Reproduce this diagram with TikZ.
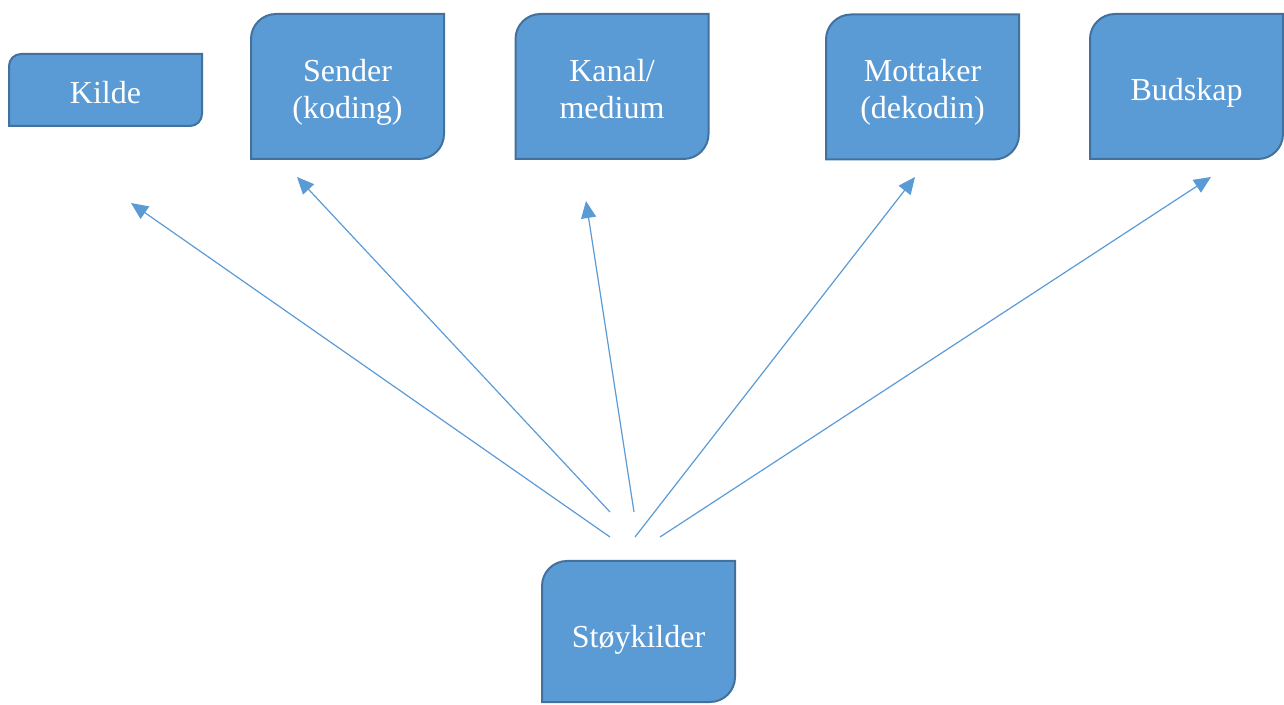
\documentclass[tikz,border=0pt]{standalone}
\usepackage{fontspec}
\setmainfont{Liberation Serif}
\usepackage{xcolor}
\definecolor{boxblue}{RGB}{91,155,213}
\definecolor{boxedge}{RGB}{65,113,156}
\usetikzlibrary{arrows.meta,backgrounds}
\begin{document}
\begin{tikzpicture}[x=1pt,y=1pt,
  box/.style={minimum width=193pt,minimum height=145pt,outer sep=0pt,inner sep=0pt},
  txt/.style={text=white,align=center,font=\fontsize{32}{37}\selectfont},
  boxline/.style={fill=boxblue,draw=boxedge,line width=2pt},
  arr/.style={-{Triangle[length=17pt,width=15pt]},line width=1.2pt,boxblue}]
  \useasboundingbox (0,0) rectangle (1284,704);
  % Top row
  \node[box,minimum height=72pt] (kilde) at (105.5,614) {};
  \node[box] (sender) at (347.5,617.5) {};
  \node[box] (kanal) at (612,617.5) {};
  \node[box] (mottaker) at (922.5,617) {};
  \node[box] (budskap) at (1186.5,617.5) {};
  % Noise source
  \node[box,minimum height=141pt] (stoy) at (638.5,72.5) {};
  % Box outlines: round top left and bottom right
  \begin{scope}[on background layer]
    \foreach \n/\r in {kilde/12,sender/25,kanal/25,mottaker/25,budskap/25,stoy/25}
      \draw[boxline] (\n.south west) -- ([yshift=-\r pt]\n.north west)
        arc[start angle=180,end angle=90,radius=\r pt] -- (\n.north east)
        -- ([yshift=\r pt]\n.south east) arc[start angle=0,end angle=-90,radius=\r pt] -- cycle;
  \end{scope}
  % Labels
  \node[txt] (kilde-t) at ([yshift=-3pt]kilde.center) {Kilde};
  \node[txt] (sender-t) at ([yshift=-6pt]sender.center) {Sender\\(koding)};
  \node[txt] (kanal-t) at ([yshift=-3pt]kanal.center) {Kanal/\\medium};
  \node[txt] (mottaker-t) at ([yshift=-5pt]mottaker.center) {Mottaker\\(dekodin)};
  \node[txt] (budskap-t) at ([yshift=-6pt]budskap.center) {Budskap};
  \node[txt] (stoy-t) at ([yshift=-8pt]stoy.center) {Støykilder};
  % Arrow ends
  \coordinate (s1) at (610,167);  \coordinate (t1) at (131,501);
  \coordinate (s2) at (610,192);  \coordinate (t2) at (297,527);
  \coordinate (s3) at (634,192);  \coordinate (t3) at (586,503);
  \coordinate (s4) at (635,167);  \coordinate (t4) at (915,527);
  \coordinate (s5) at (660,167);  \coordinate (t5) at (1211,527);
  \foreach \i in {1,...,5}
    \draw[arr] (s\i) -- (t\i);
\end{tikzpicture}
\end{document}
